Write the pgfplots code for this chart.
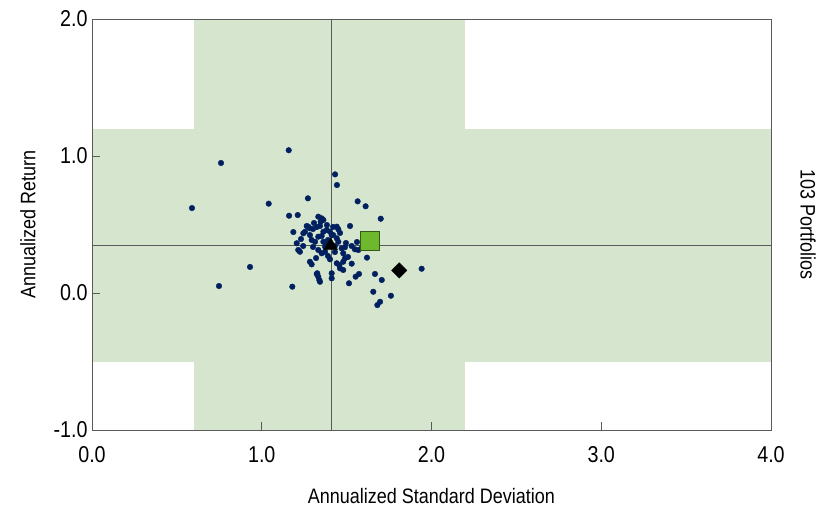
\documentclass[border=0pt]{standalone}
\usepackage{pgfplots}
\pgfplotsset{compat=1.18}
\usepackage{fontspec}
\setmainfont{Liberation Sans}[FakeStretch=0.86]
\definecolor{band}{RGB}{213,229,206}
\definecolor{navy}{RGB}{0,32,96}
\definecolor{sqgreen}{RGB}{110,184,46}
\definecolor{sqedge}{RGB}{50,90,20}
\definecolor{lgray}{RGB}{90,90,90}
\begin{document}
\begin{tikzpicture}
\begin{axis}[
  scale only axis, width=679bp, height=411bp,
  xmin=0, xmax=4, ymin=-1, ymax=2,
  xtick={0,1,2,3,4}, ytick={-1,0,1,2},
  axis line style={lgray, line width=0.8pt},
  tick style={lgray, line width=0.6pt},
  major tick length=8bp,
  tick align=inside,
  xtick pos=bottom, ytick pos=left,
  /pgf/number format/assume math mode=true,
  /pgf/number format/fixed, /pgf/number format/fixed zerofill, /pgf/number format/precision=1,
  ticklabel style={font=\fontsize{23}{25}\selectfont, text=black},
  xticklabel style={yshift=-13bp},
  yticklabel style={xshift=-1bp},
  xlabel={Annualized Standard Deviation},
  ylabel={Annualized Return},
  label style={font=\fontsize{21}{23}\selectfont},
  xlabel style={at={(axis description cs:0.5,-0.1606)}, anchor=center},
  ylabel style={at={(axis description cs:-0.0943,0.5)}, anchor=center},
  axis on top,
  clip=true,
]
\addplot[fill=band, draw=none] coordinates {(0.6,-1) (2.2,-1) (2.2,2) (0.6,2)} -- cycle;
\addplot[fill=band, draw=none] coordinates {(0,-0.5) (4,-0.5) (4,1.2) (0,1.2)} -- cycle;
\addplot[lgray, line width=1pt] coordinates {(1.408,-1) (1.408,2)};
\addplot[lgray, line width=1pt] coordinates {(0,0.35) (4,0.35)};
\addplot[only marks, mark=*, mark size=2.8bp, color=navy] coordinates {
(0.589,0.620) (0.760,0.949) (0.748,0.051) (0.931,0.190) (1.041,0.652)
(1.159,1.042) (1.180,0.046) (1.272,0.691) (1.161,0.564) (1.212,0.569)
(1.432,0.866) (1.443,0.788) (1.565,0.669) (1.612,0.633) (1.701,0.542)
(1.520,0.489) (1.442,0.484) (1.451,0.465) (1.620,0.258) (1.530,0.214)
(1.667,0.139) (1.707,0.095) (1.573,0.139) (1.553,0.119) (1.514,0.071)
(1.657,0.009) (1.761,-0.020) (1.697,-0.064) (1.681,-0.088) (1.942,0.177)
(1.480,0.168) (1.412,0.144) (1.412,0.107) (1.186,0.445) (1.245,0.436)
(1.274,0.484) (1.206,0.363) (1.215,0.314) (1.284,0.228) (1.294,0.209)
(1.327,0.144) (1.339,0.095) (1.402,0.246) (1.442,0.217) (1.333,0.557)
(1.353,0.545) (1.347,0.520) (1.363,0.533) (1.265,0.489) (1.284,0.472)
(1.255,0.447) (1.302,0.467) (1.325,0.482) (1.343,0.489) (1.363,0.447)
(1.383,0.460) (1.402,0.447) (1.412,0.423) (1.294,0.387) (1.314,0.374)
(1.333,0.411) (1.353,0.416) (1.421,0.423) (1.442,0.399) (1.451,0.374)
(1.225,0.301) (1.363,0.374) (1.373,0.338) (1.471,0.326) (1.490,0.334)
(1.530,0.343) (1.549,0.319) (1.569,0.314) (1.333,0.314) (1.353,0.290)
(1.373,0.301) (1.480,0.290) (1.490,0.253) (1.480,0.228) (1.457,0.204)
(1.461,0.180) (1.324,0.139) (1.333,0.119) (1.343,0.082) (1.390,0.387)
(1.379,0.358) (1.496,0.365) (1.591,0.336) (1.608,0.328) (1.302,0.336)
(1.244,0.343) (1.384,0.496) (1.420,0.482) (1.390,0.270) (1.431,0.299)
(1.284,0.423) (1.231,0.394) (1.508,0.263) (1.320,0.255) (1.431,0.343)
(1.461,0.438) (1.561,0.372) (1.308,0.511)
};
\addplot[only marks, mark=triangle*, mark size=8bp, color=black] coordinates {(1.406,0.345)};
\addplot[only marks, mark=square*, mark size=9.5bp, draw=sqedge, fill=sqgreen, mark options={line width=0.8pt}] coordinates {(1.64,0.38)};
\addplot[only marks, mark=square*, mark size=5.4bp, color=black, mark options={rotate=45}] coordinates {(1.81,0.165)};
\end{axis}
\node[rotate=-90, font=\fontsize{21}{23}\selectfont] at ([xshift=37bp]current axis.east) {103 Portfolios};
\pgfresetboundingbox
\path ([xshift=-92bp,yshift=-86bp]current axis.south west) rectangle ++(823bp,516bp);
\end{tikzpicture}
\end{document}
